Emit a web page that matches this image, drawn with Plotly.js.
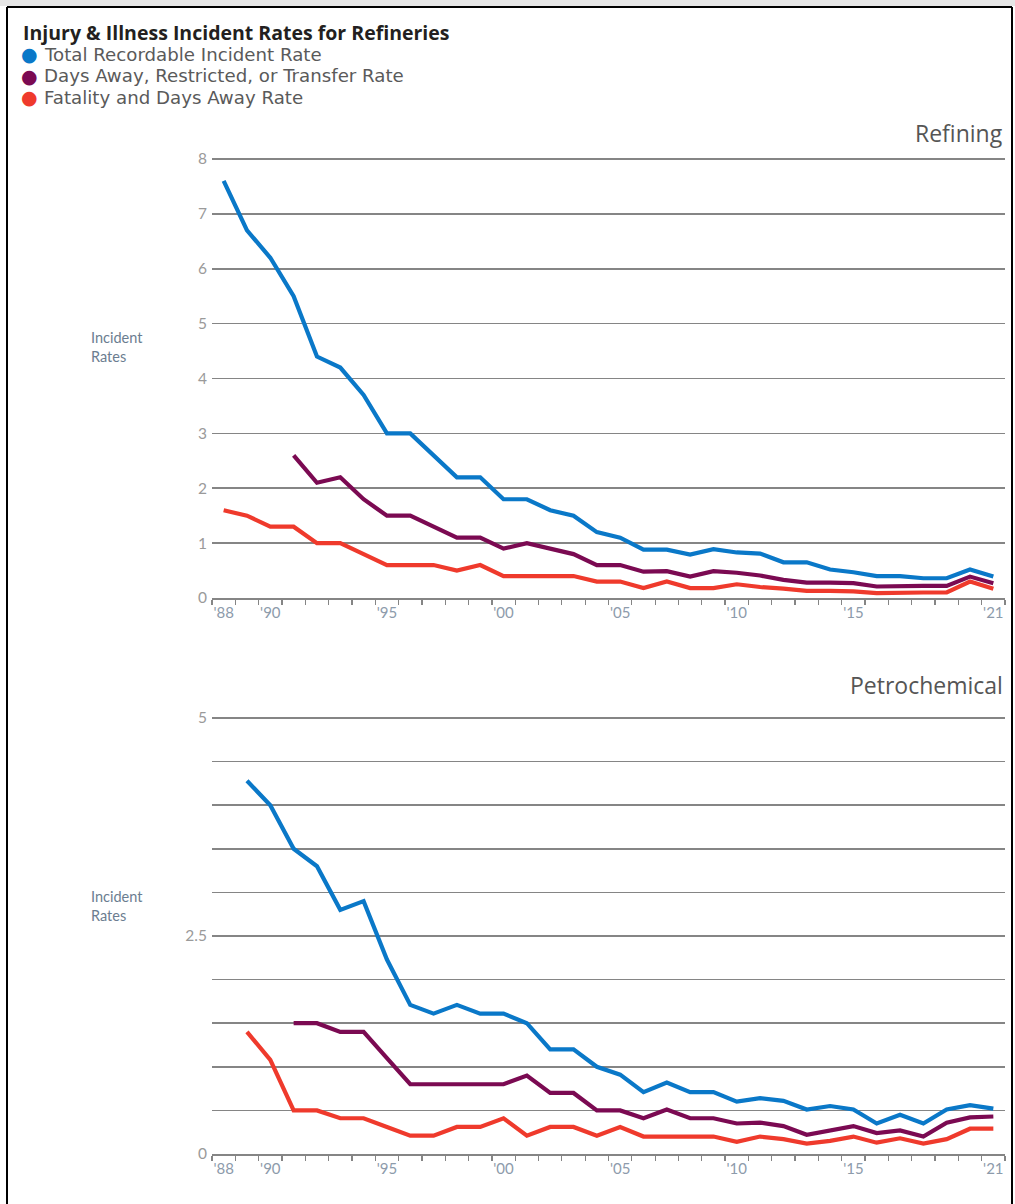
<!DOCTYPE html>
<html>
<head>
<meta charset="utf-8">
<script src="https://cdn.plot.ly/plotly-3.0.1.min.js"></script>
<style>
html,body{margin:0;padding:0;background:#fff;}
#chart{width:1015px;height:1204px;}
</style>
</head>
<body>
<div id="chart"></div>
<script>
// ---- data ----
const years = [1988,1989,1990,1991,1992,1993,1994,1995,1996,1997,1998,1999,2000,2001,2002,2003,2004,2005,2006,2007,2008,2009,2010,2011,2012,2013,2014,2015,2016,2017,2018,2019,2020,2021];
const seriesNames = ["Total Recordable Incident Rate","Days Away, Restricted, or Transfer Rate","Fatality and Days Away Rate"];
const refiningTotal = [7.6,6.7,6.2,5.5,4.4,4.2,3.7,3.0,3.0,2.6,2.2,2.2,1.8,1.8,1.6,1.5,1.2,1.1,0.88,0.88,0.79,0.89,0.83,0.81,0.65,0.65,0.52,0.47,0.4,0.4,0.36,0.36,0.52,0.39];
const refiningDART = [null,null,null,2.6,2.1,2.2,1.8,1.5,1.5,1.3,1.1,1.1,0.9,1.0,0.9,0.8,0.6,0.6,0.48,0.49,0.39,0.49,0.46,0.41,0.33,0.28,0.28,0.27,0.21,0.22,0.22,0.22,0.39,0.27];
const refiningDAFW = [1.6,1.5,1.3,1.3,1.0,1.0,0.8,0.6,0.6,0.6,0.5,0.6,0.4,0.4,0.4,0.4,0.3,0.3,0.18,0.3,0.18,0.18,0.25,0.2,0.17,0.13,0.13,0.12,0.09,0.1,0.1,0.1,0.3,0.17];
const petroTotal = [null,4.28,4.0,3.5,3.3,2.8,2.9,2.23,1.71,1.61,1.71,1.61,1.61,1.5,1.2,1.2,1.0,0.91,0.71,0.82,0.71,0.71,0.6,0.64,0.61,0.51,0.55,0.51,0.35,0.45,0.35,0.51,0.56,0.52];
const petroDART = [null,null,null,1.5,1.5,1.4,1.4,1.1,0.8,0.8,0.8,0.8,0.8,0.9,0.7,0.7,0.5,0.5,0.41,0.51,0.41,0.41,0.35,0.36,0.32,0.22,0.27,0.32,0.24,0.27,0.2,0.36,0.42,0.43];
const petroDAFW = [null,1.4,1.08,0.5,0.5,0.41,0.41,0.31,0.21,0.21,0.31,0.31,0.41,0.21,0.31,0.31,0.21,0.31,0.2,0.2,0.2,0.2,0.14,0.2,0.17,0.12,0.15,0.2,0.13,0.18,0.12,0.17,0.29,0.29];
const xTickVals = [1988,1990,1995,2000,2005,2010,2015,2021];
const xTickText = ["'88","'90","'95","'00","'05","'10","'15","'21"];
const refTickVals = [0,1,2,3,4,5,6,7,8];
const refTickText = ["0","1","2","3","4","5","6","7","8"];
const petTickVals = [0,0.5,1,1.5,2,2.5,3,3.5,4,4.5,5];
const petTickText = ["0","","","","","2.5","","","","","5"];

// ---- style ----
const colors = ["#0a78c8","#7b0a52","#ef3a2c"];
const W = 1015, H = 1204;
const px = v => v / W;
const py = v => 1 - v / H;
const gridCol = "#858585";
// pixel scales: refining 0 at y=598, 54.875 px/unit; petrochemical 0 at y=1154, 87.2 px/unit
const refTop = 8.05, petTop = 5.03;

function mk(y, i, xa, ya){
  return {x: years, y: y, type: "scatter", mode: "lines", name: seriesNames[i],
    xaxis: xa, yaxis: ya, showlegend: false, connectgaps: false,
    line: {color: colors[i], width: 4.2, shape: "linear"}, hoverinfo: "x+y"};
}
const traces = [
  mk(refiningTotal,0,"x","y"), mk(refiningDART,1,"x","y"), mk(refiningDAFW,2,"x","y"),
  mk(petroTotal,0,"x2","y2"), mk(petroDART,1,"x2","y2"), mk(petroDAFW,2,"x2","y2")
];

const xaxisBase = {
  range: [1987.5, 2021.5], domain: [px(212), px(1005)],
  tickvals: xTickVals, ticktext: xTickText, ticks: "", showgrid: false, zeroline: false,
  showline: true, linecolor: gridCol, linewidth: 1.6,
  tickfont: {family: "Lato, 'Open Sans', sans-serif", size: 15, color: "#8d9bab"},
  minor: {ticks: "outside", tick0: 1987.5, dtick: 1, ticklen: 5, tickcolor: gridCol, tickwidth: 1.3, showgrid: false},
  fixedrange: true
};
const yaxisBase = {
  showgrid: true, gridcolor: gridCol, gridwidth: 1.6, zeroline: false, ticks: "",
  tickfont: {family: "Lato, 'Open Sans', sans-serif", size: 15.5, color: "#9a9a9a"},
  ticklabelstandoff: 4, fixedrange: true
};

const ann = [];
ann.push({xref:"paper", yref:"paper", x: px(21), y: py(33), xanchor:"left", yanchor:"middle", showarrow:false,
  text:"<b>Injury &amp; Illness Incident Rates for Refineries</b>",
  font:{family:"'Open Sans', 'Noto Sans', sans-serif", size:19.5, color:"#231f20"}});
const legY = [54, 76, 97];
for (let i = 0; i < 3; i++) {
  ann.push({xref:"paper", yref:"paper", x: px(19), y: py(legY[i]), xanchor:"left", yanchor:"middle", showarrow:false,
    text:'<span style="color:' + colors[i] + '">●</span>',
    font:{family:"DejaVu Sans, sans-serif", size:19, color:colors[i]}});
  ann.push({xref:"paper", yref:"paper", x: px(42), y: py(legY[i]), xanchor:"left", yanchor:"middle", showarrow:false,
    text: seriesNames[i], font:{family:"'DejaVu Sans', sans-serif", size:18.2, color:"#5a5a5a"}});
}
ann.push({xref:"paper", yref:"paper", x: px(1005), y: py(133), xanchor:"right", yanchor:"middle", showarrow:false,
  text:"Refining", font:{family:"'Open Sans', sans-serif", size:23, color:"#555"}});
ann.push({xref:"paper", yref:"paper", x: px(1005), y: py(685), xanchor:"right", yanchor:"middle", showarrow:false,
  text:"Petrochemical", font:{family:"'Open Sans', sans-serif", size:23, color:"#555"}});
[[347],[906]].forEach(function(p){
  ann.push({xref:"paper", yref:"paper", x: px(89), y: py(p[0]), xanchor:"left", yanchor:"middle", showarrow:false, align:"left",
    text:"Incident<br>Rates", font:{family:"Lato, sans-serif", size:14.5, color:"#6b7d90"}});
});

const layout = {
  width: W, height: H, margin: {l:0, r:0, t:0, b:0}, paper_bgcolor: "#fff", plot_bgcolor: "rgba(0,0,0,0)",
  showlegend: false,
  xaxis: Object.assign({}, xaxisBase, {anchor: "y"}),
  yaxis: Object.assign({}, yaxisBase, {range: [0, refTop], domain: [py(598), py(598 - refTop * 54.875)], tickvals: refTickVals, ticktext: refTickText, anchor: "x"}),
  xaxis2: Object.assign({}, xaxisBase, {anchor: "y2"}),
  yaxis2: Object.assign({}, yaxisBase, {range: [0, petTop], domain: [py(1154), py(1154 - petTop * 87.2)], tickvals: petTickVals, ticktext: petTickText, anchor: "x2"}),
  annotations: ann,
  shapes: [
    {type:"rect", xref:"paper", yref:"paper", x0:0, x1:1, y0:py(6), y1:1, fillcolor:"#e6e6e6", line:{width:0}, layer:"below"},
    {type:"line", xref:"paper", yref:"paper", x0:px(7), x1:px(1012), y0:py(7), y1:py(7), line:{color:"#000", width:2}},
    {type:"line", xref:"paper", yref:"paper", x0:px(7), x1:px(7), y0:py(7), y1:0, line:{color:"#000", width:2}},
    {type:"line", xref:"paper", yref:"paper", x0:px(1012), x1:px(1012), y0:py(7), y1:0, line:{color:"#000", width:2}}
  ]
};
Plotly.newPlot("chart", traces, layout, {displayModeBar: false, staticPlot: true});
</script>
</body>
</html>
